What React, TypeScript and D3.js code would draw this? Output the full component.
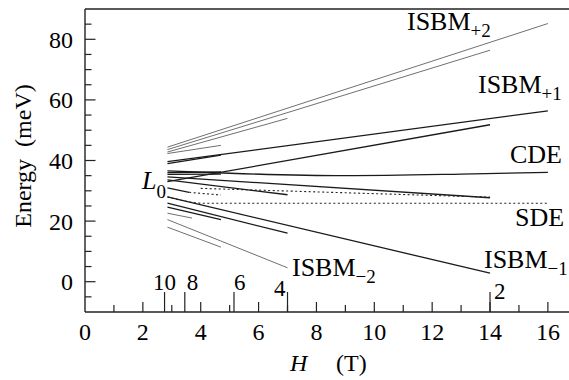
import React, { useEffect, useRef } from 'react';
import * as d3 from 'd3';

type Pt = [number, number];

// thin gray branches (ISBM+2 bundle, ISBM-2 bundle)
const grayLines: Pt[][] = [
    [[2.85, 44.4], [16, 85.2]],
    [[2.85, 43.6], [14, 76.4]],
    [[2.85, 42.8], [7.0, 53.9]],
    [[2.85, 42.3], [4.7, 45.0]],
    [[2.85, 20.5], [7.0, 4.6]],
    [[2.85, 18.0], [4.7, 11.4]],
    [[2.85, 22.6], [3.7, 21.0]],
];

// solid black branches (ISBM+1, CDE, ISBM-1 ...)
const blackLines: Pt[][] = [
    [[2.85, 39.6], [16, 56.4]],
    [[2.85, 33.0], [14, 51.8]],
    [[2.85, 39.0], [4.7, 41.8]],
    [[2.85, 36.6], [5, 35.8], [9, 35.0], [13, 35.5], [16, 36.1]],
    [[2.85, 36.0], [4.7, 36.2]],
    [[2.85, 35.4], [4.7, 35.5]],
    [[2.85, 34.6], [14, 27.7]],
    [[2.85, 33.6], [7.0, 28.7]],
    [[2.85, 31.0], [3.6, 29.5]],
    [[2.85, 28.0], [14, 2.8]],
    [[2.85, 25.9], [7.0, 16.0]],
    [[2.85, 24.6], [4.7, 20.5]],
];

// dotted branches (SDE ...)
const dottedLines: Pt[][] = [
    [[4.0, 30.8], [14, 27.9]],
    [[3.6, 29.5], [4.7, 28.6]],
    [[2.85, 28.0], [4.1, 25.9], [16, 25.9]],
];

const xTickValues = d3.range(1, 17);
const xTickLabels = [0, 2, 4, 6, 8, 10, 12, 14, 16];
const yTickValues = d3.range(-5, 86, 5);
const yTickLabels = [0, 20, 40, 60, 80];

// filling factors nu and the field where they sit
const nuLabels = ['10', '8', '6', '4', '2'];
const nuFields = [2.75, 3.45, 5.15, 7.0, 14.0];

const App = () => {
    const svgRef = useRef<SVGSVGElement>(null);

    useEffect(() => {
        const W = 569, H = 380;
        const svg = d3.select(svgRef.current);
        svg.selectAll('*').remove();

        const x = d3.scaleLinear().domain([0, 16.73]).range([85, 569]);
        const y = d3.scaleLinear().domain([-10, 90]).range([312, 9]);
        const font = '"Liberation Serif", "Times New Roman", serif';

        // frame
        svg.append('line').attr('x1', 85).attr('x2', W).attr('y1', y(90)).attr('y2', y(90))
            .attr('stroke', '#222').attr('stroke-width', 1.4);
        svg.append('line').attr('x1', 85).attr('x2', 85).attr('y1', y(90)).attr('y2', y(-10))
            .attr('stroke', '#222').attr('stroke-width', 1.4);
        svg.append('line').attr('x1', 85).attr('x2', W).attr('y1', y(-10)).attr('y2', y(-10))
            .attr('stroke', '#222').attr('stroke-width', 1.4);

        // y ticks (inward)
        svg.append('g').selectAll('line').data(yTickValues).enter().append('line')
            .attr('x1', 85)
            .attr('x2', d => 85 + (d % 20 === 0 ? 10.5 : 6.5))
            .attr('y1', d => y(d)).attr('y2', d => y(d))
            .attr('stroke', '#222').attr('stroke-width', 1.2);
        svg.append('g').selectAll('text').data(yTickLabels).enter().append('text')
            .attr('x', 73).attr('y', d => y(d)).attr('dy', '0.35em')
            .attr('text-anchor', 'end')
            .style('font-family', font).style('font-size', '24px')
            .text(d => d);

        // x ticks (inward)
        svg.append('g').selectAll('line').data(xTickValues).enter().append('line')
            .attr('x1', d => x(d)).attr('x2', d => x(d))
            .attr('y1', y(-10))
            .attr('y2', d => y(-10) - (d % 2 === 0 ? 10 : 7))
            .attr('stroke', '#222').attr('stroke-width', 1.2);
        svg.append('g').selectAll('text').data(xTickLabels).enter().append('text')
            .attr('x', d => x(d)).attr('y', 340)
            .attr('text-anchor', 'middle')
            .style('font-family', font).style('font-size', '24px')
            .text(d => d);

        // filling factor marks
        svg.append('g').selectAll('line').data(nuFields).enter().append('line')
            .attr('x1', d => x(d)).attr('x2', d => x(d))
            .attr('y1', y(-10)).attr('y2', y(-10) - 20)
            .attr('stroke', '#222').attr('stroke-width', 1.2);
        const nuAnchor = ['middle', 'start', 'start', 'end', 'start'];
        const nuDx = [0, 2, 0, -2, 4];
        const nuY = [290, 290, 290, 296, 299];
        svg.append('g').selectAll('text').data(nuLabels).enter().append('text')
            .attr('x', (d, i) => x(nuFields[i]) + nuDx[i])
            .attr('y', (d, i) => nuY[i])
            .attr('text-anchor', (d, i) => nuAnchor[i])
            .style('font-family', font).style('font-size', '23px')
            .text(d => d);

        const line = d3.line<Pt>()
            .x(d => x(d[0]))
            .y(d => y(d[1]))
            .curve(d3.curveMonotoneX);

        svg.append('g').selectAll('path').data(grayLines).enter().append('path')
            .attr('d', d => line(d))
            .attr('fill', 'none').attr('stroke', '#707070').attr('stroke-width', 1);
        svg.append('g').selectAll('path').data(blackLines).enter().append('path')
            .attr('d', d => line(d))
            .attr('fill', 'none').attr('stroke', '#1a1a1a').attr('stroke-width', 1.3);
        svg.append('g').selectAll('path').data(dottedLines).enter().append('path')
            .attr('d', d => line(d))
            .attr('fill', 'none').attr('stroke', '#222').attr('stroke-width', 1.1)
            .attr('stroke-dasharray', '2,2.5');

        // branch labels
        const label = (lx: number, ly: number, main: string, sub?: string, subDy = 7, italic = false) => {
            const t = svg.append('text')
                .attr('x', lx).attr('y', ly)
                .style('font-family', font).style('font-size', '26px');
            t.append('tspan').style('font-style', italic ? 'italic' : 'normal').text(main);
            if (sub) {
                t.append('tspan').attr('dy', subDy).style('font-size', '19px').text(sub);
            }
        };
        label(407, 30, 'ISBM', '+2');
        label(478, 93, 'ISBM', '+1');
        label(510, 163, 'CDE');
        label(515, 226, 'SDE');
        label(484, 268, 'ISBM', '\u22121');
        label(292, 276, 'ISBM', '\u22122');
        label(142, 189, 'L', '0', 9, true);

        // axis titles
        const xt = svg.append('text').attr('x', 290).attr('y', 371)
            .style('font-family', font).style('font-size', '24px');
        xt.append('tspan').style('font-style', 'italic').text('H');
        xt.append('tspan').attr('x', 336).text('(T)');

        svg.append('text')
            .attr('transform', `translate(31,156) rotate(-90)`)
            .attr('text-anchor', 'middle')
            .style('font-family', font).style('font-size', '24px')
            .style('white-space', 'pre')
            .text('Energy  (meV)');

        svg.attr('width', W).attr('height', H);
    }, []);

    return (
        <svg ref={svgRef} width={569} height={380}
            style={{ position: 'absolute', left: 0, top: 0, background: '#fff' }} />
    );
};

export default App;
